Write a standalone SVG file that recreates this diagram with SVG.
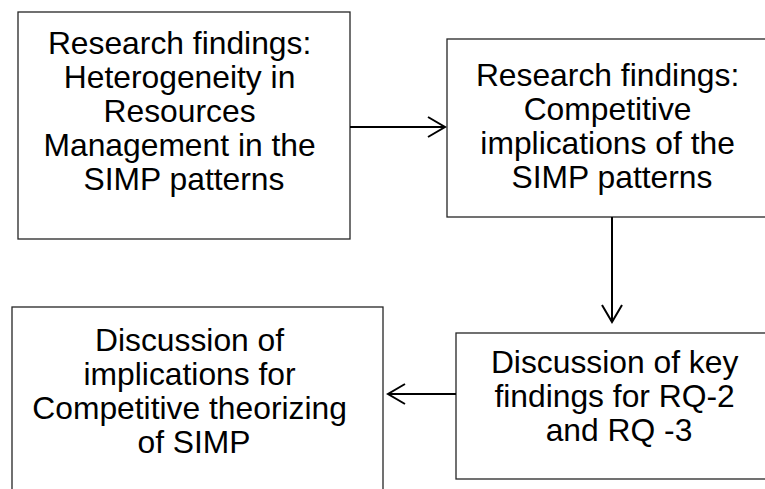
<svg xmlns="http://www.w3.org/2000/svg" width="765" height="489" viewBox="0 0 765 489">
  <style>
    .box { fill: #ffffff; stroke: #262626; stroke-width: 1.3; }
    .label { font-family: "Liberation Sans", Arial, sans-serif; font-size: 31.8px; fill: #000000; text-anchor: middle; }
    .link { fill: none; stroke: #000000; stroke-width: 2; }
    .head { fill: none; stroke: #000000; stroke-width: 2; stroke-linejoin: miter; }
  </style>
  <rect width="765" height="489" fill="#ffffff"/>

  <g id="node-heterogeneity">
    <rect class="box" x="18" y="12" width="332" height="227"/>
    <text class="label">
      <tspan x="184" y="54">Research findings:</tspan>
      <tspan x="184" y="88">Heterogeneity in</tspan>
      <tspan x="184" y="122">Resources</tspan>
      <tspan x="184" y="156">Management in the</tspan>
      <tspan x="184" y="190">SIMP patterns</tspan>
    </text>
  </g>

  <g id="node-competitive">
    <rect class="box" x="447" y="39" width="330" height="178"/>
    <text class="label">
      <tspan x="612" y="86">Research findings:</tspan>
      <tspan x="612" y="120">Competitive</tspan>
      <tspan x="612" y="154">implications of the</tspan>
      <tspan x="612" y="188">SIMP patterns</tspan>
    </text>
  </g>

  <g id="node-key-findings">
    <rect class="box" x="456" y="333" width="326" height="146"/>
    <text class="label">
      <tspan x="619" y="373">Discussion of key</tspan>
      <tspan x="619" y="407">findings for RQ-2</tspan>
      <tspan x="619" y="441">and RQ -3</tspan>
    </text>
  </g>

  <g id="node-theorizing">
    <rect class="box" x="12" y="307" width="371" height="200"/>
    <text class="label">
      <tspan x="194" y="351">Discussion of</tspan>
      <tspan x="194" y="385">implications for</tspan>
      <tspan x="194" y="419">Competitive theorizing</tspan>
      <tspan x="194" y="453">of SIMP</tspan>
    </text>
  </g>

  <g id="connectors">
    <!-- heterogeneity -> competitive -->
    <line class="link" x1="350" y1="127" x2="445" y2="127"/>
    <polyline class="head" points="428,117 445,127 428,137"/>
    <!-- competitive -> key findings -->
    <line class="link" x1="612" y1="217" x2="612" y2="322"/>
    <polyline class="head" points="602,305 612,322 622,305"/>
    <!-- key findings -> theorizing -->
    <line class="link" x1="456" y1="394" x2="388" y2="394"/>
    <polyline class="head" points="405,384 388,394 405,404"/>
  </g>
</svg>
